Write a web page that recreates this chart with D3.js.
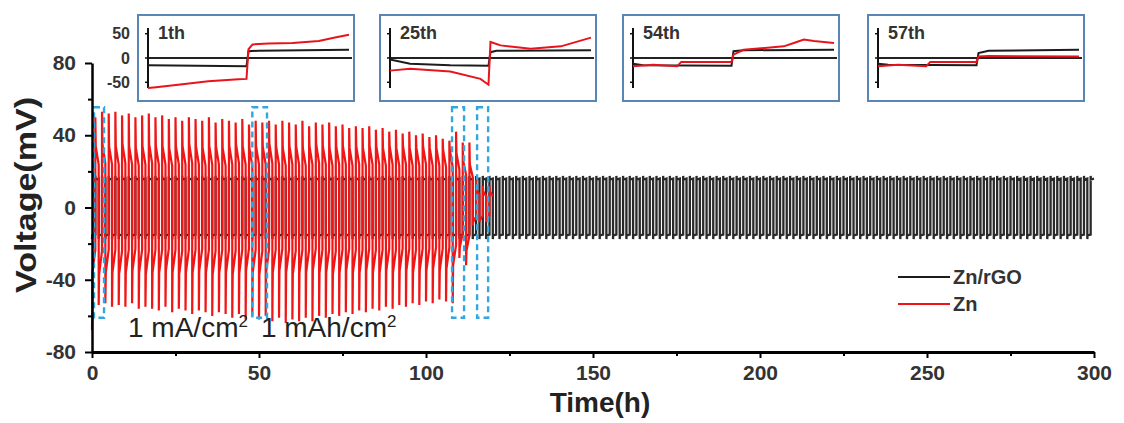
<!DOCTYPE html>
<html>
<head>
<meta charset="utf-8">
<script src="https://cdn.jsdelivr.net/npm/d3@7"></script>
<style>
body { margin: 0; background: #fff; }
svg { display: block; font-family: "Liberation Sans", Arial, sans-serif; }
</style>
</head>
<body>
<svg id="chart" width="1124" height="423"></svg>
<script>
// ----- DATA -----------------------------------------------------------
const xTicks = [0, 50, 100, 150, 200, 250, 300];
const xMinorTicks = [25, 75, 125, 175, 225, 275];
const yTicks = [-80, -40, 0, 40, 80];
const yMinorTicks = [-60, -20, 20, 60];

const seriesNames = ["Zn/rGO", "Zn"];
const seriesColors = ["#1c1c1c", "#f01414"];

// one plating/stripping cycle = 2 h (1 mA/cm2, 1 mAh/cm2)
const cycleHours = 2;
const rgoCycles = 150;
// Zn/rGO voltage over one cycle: [fraction of cycle, mV]
const rgoCycleShape = [[0, -17.5], [0.03, -15.5], [0.5, -15], [0.5, 17.5], [0.53, 15.5], [1, 16]];

// bare Zn, per cycle (60 cycles, 0-120 h)
const znPeakUp = [
    50, 53, 52, 53, 51, 52, 50, 51, 52, 50,
    51, 49, 50, 48, 50, 49, 48, 50, 47, 49,
    48, 47, 49, 46, 48, 47, 48, 46, 48, 47,
    46, 48, 45, 47, 46, 47, 45, 46, 44, 45,
    44, 45, 43, 44, 42, 43, 41, 42, 40, 41,
    39, 40, 38, 37, 42, 36, 36, 15, 12, 12
];
const znPeakDown = [
    -68, -54, -53, -55, -54, -55, -53, -56, -55, -56,
    -57, -55, -58, -56, -57, -59, -57, -58, -60, -58,
    -59, -61, -59, -62, -60, -62, -60, -63, -61, -64,
    -62, -63, -61, -63, -60, -61, -59, -60, -58, -59,
    -57, -58, -56, -57, -55, -56, -54, -55, -53, -54,
    -52, -53, -51, -52, -53, -28, -32, -10, -8, -8
];
const znHoldUp = [
    34, 35, 34, 34, 35, 34, 33, 34, 35, 34,
    34, 33, 34, 34, 35, 34, 33, 34, 34, 33,
    34, 35, 34, 33, 34, 34, 35, 34, 33, 34,
    34, 33, 34, 35, 34, 33, 34, 34, 33, 34,
    33, 34, 34, 33, 34, 33, 34, 33, 33, 34,
    33, 33, 32, 32, 30, 26, 24, 10, 9, 9
];
const znHoldDown = [
    -36, -37, -36, -36, -37, -36, -35, -36, -37, -36,
    -36, -35, -36, -37, -36, -36, -35, -36, -37, -36,
    -36, -37, -36, -35, -36, -37, -36, -36, -35, -36,
    -37, -36, -36, -35, -36, -36, -37, -36, -35, -36,
    -36, -35, -36, -36, -35, -36, -35, -35, -36, -35,
    -35, -34, -35, -34, -32, -22, -24, -8, -7, -7
];

// dashed windows (h) shown in the insets
const windowStart = [0.6, 48, 107.8, 115.3];
const windowEnd = [3.6, 52.4, 111.4, 118.6];
const windowTop = 55.5;
const windowBottom = -61;

// insets: one cycle each, [fraction of cycle, mV]
const insetLabels = ["1th", "25th", "54th", "57th"];
const insetTicks = [50, 0, -50];
const insetZn = [
    [[0, -62], [0.04, -60], [0.15, -55], [0.3, -48], [0.45, -44], [0.49, -43], [0.5, 18], [0.52, 28], [0.6, 30], [0.72, 31], [0.85, 35], [0.93, 42], [1, 48]],
    [[0, -26], [0.1, -22], [0.3, -28], [0.45, -43], [0.49, -55], [0.5, 33], [0.55, 26], [0.7, 19], [0.85, 24], [1, 42]],
    [[0, -17], [0.1, -14], [0.22, -17], [0.24, -8], [0.49, -8], [0.5, 7], [0.55, 17], [0.75, 24], [0.8, 31], [0.85, 38], [0.9, 35], [1, 31]],
    [[0, -17], [0.1, -14], [0.24, -17], [0.26, -8], [0.49, -8], [0.5, 3], [0.55, 4], [1, 3]]
];
const insetRgo = [
    [[0, -15], [0.49, -17], [0.5, 14], [0.55, 15], [1, 17]],
    [[0, -3], [0.1, -12], [0.3, -15], [0.49, -16], [0.5, 12], [0.53, 15], [1, 16]],
    [[0, -12], [0.05, -15], [0.49, -16], [0.5, 14], [0.55, 16], [1, 17]],
    [[0, -12], [0.05, -14], [0.49, -15], [0.5, 10], [0.55, 15], [1, 17]]
];

// ----- LAYOUT ---------------------------------------------------------
const svg = d3.select("#chart");

// soften the dense traces a little, like the scanned figure
svg.append("defs")
    .append("filter")
    .attr("id", "soft")
    .attr("x", "-2%").attr("y", "-2%").attr("width", "104%").attr("height", "104%")
    .append("feGaussianBlur")
    .attr("stdDeviation", 0.55);

const x = d3.scaleLinear().domain([0, 300]).range([92, 1094]);
const y = d3.scaleLinear().domain([-80, 80]).range([352, 63]);

// build the two voltage traces
let rgoPoints = [];
for (let c = 0; c < rgoCycles; c++) {
    rgoCycleShape.forEach(p => rgoPoints.push([c * cycleHours + p[0] * cycleHours, p[1]]));
}

let znPoints = [];
znPeakUp.forEach((up, c) => {
    const t0 = c * cycleHours;
    znPoints.push([t0, znPeakDown[c]]);
    znPoints.push([t0 + 0.12, znHoldDown[c]]);
    znPoints.push([t0 + 1, znHoldDown[c] * 0.65]);
    znPoints.push([t0 + 1, up]);
    znPoints.push([t0 + 1.12, znHoldUp[c]]);
    znPoints.push([t0 + 2, znHoldUp[c] * 0.7]);
});

const line = d3.line().x(d => x(d[0])).y(d => y(d[1]));

svg.append("path")
    .attr("d", line(rgoPoints))
    .attr("fill", "none")
    .attr("stroke", "#2a2a2a")
    .attr("stroke-width", 2.3)
    .attr("filter", "url(#soft)");

svg.append("path")
    .attr("d", line(znPoints))
    .attr("fill", "none")
    .attr("stroke", seriesColors[1])
    .attr("stroke-width", 2.2)
    .attr("filter", "url(#soft)");

// dashed highlight windows
windowStart.forEach((s, i) => {
    svg.append("rect")
        .attr("x", x(s))
        .attr("y", y(windowTop))
        .attr("width", x(windowEnd[i]) - x(s))
        .attr("height", y(windowBottom) - y(windowTop))
        .attr("fill", "none")
        .attr("stroke", "#33a6e0")
        .attr("stroke-width", 2.4)
        .attr("stroke-dasharray", "6,4");
});

// ----- AXES -----------------------------------------------------------
const tickFont = g => g.selectAll("text")
    .attr("font-size", 21)
    .attr("font-weight", "bold")
    .attr("fill", "#333");

const yAxis = svg.append("g")
    .attr("transform", "translate(" + x(0) + ",0)")
    .call(d3.axisLeft(y).tickValues(yTicks).tickSize(7).tickSizeOuter(0).tickPadding(9)
        .tickFormat(d => String(d)))
    .call(tickFont);
yAxis.select(".domain").attr("stroke-width", 2.5);
yAxis.selectAll(".tick line").attr("stroke-width", 2);

const yMinor = svg.append("g")
    .attr("transform", "translate(" + x(0) + ",0)")
    .call(d3.axisLeft(y).tickValues(yMinorTicks).tickSize(4).tickFormat(""));
yMinor.select(".domain").remove();
yMinor.selectAll(".tick line").attr("stroke-width", 2);

const xAxis = svg.append("g")
    .attr("transform", "translate(0," + y(-80) + ")")
    .call(d3.axisBottom(x).tickValues(xTicks).tickSize(6).tickSizeOuter(0).tickPadding(7))
    .call(tickFont);
xAxis.select(".domain").attr("stroke-width", 3);
xAxis.selectAll(".tick line").attr("stroke-width", 2);

const xMinor = svg.append("g")
    .attr("transform", "translate(0," + y(-80) + ")")
    .call(d3.axisBottom(x).tickValues(xMinorTicks).tickSize(4).tickFormat(""));
xMinor.select(".domain").remove();
xMinor.selectAll(".tick line").attr("stroke-width", 2);

svg.append("text")
    .attr("transform", "translate(36,195) rotate(-90)")
    .attr("text-anchor", "middle")
    .attr("font-size", 29)
    .attr("font-weight", "bold")
    .attr("fill", "#222")
    .attr("textLength", 196)
    .attr("lengthAdjust", "spacingAndGlyphs")
    .text("Voltage(mV)");

svg.append("text")
    .attr("x", 600)
    .attr("y", 412)
    .attr("text-anchor", "middle")
    .attr("font-size", 28)
    .attr("font-weight", "bold")
    .attr("fill", "#222")
    .text("Time(h)");

// current density annotation
const note = svg.append("text")
    .attr("x", 128)
    .attr("y", 337)
    .attr("font-size", 28)
    .attr("fill", "#222");
note.append("tspan").text("1 mA/cm");
note.append("tspan").attr("dy", -10).attr("font-size", 17).text("2");
note.append("tspan").attr("dy", 10).attr("dx", 13).text("1 mAh/cm");
note.append("tspan").attr("dy", -10).attr("font-size", 17).text("2");

// ----- LEGEND ---------------------------------------------------------
seriesNames.forEach((name, i) => {
    const ly = 277 + i * 27;
    svg.append("line")
        .attr("x1", 898).attr("x2", 950)
        .attr("y1", ly).attr("y2", ly)
        .attr("stroke", seriesColors[i])
        .attr("stroke-width", 2);
    svg.append("text")
        .attr("x", 953)
        .attr("y", ly + 7)
        .attr("font-size", 20)
        .attr("font-weight", "bold")
        .attr("fill", "#333")
        .text(name);
});

// ----- INSETS ---------------------------------------------------------
const insetBox = { w: 216, h: 86, top: 15 };
const insetLeft = [138, 380, 623, 868];

insetLabels.forEach((label, k) => {
    const bx = insetLeft[k];
    const by = insetBox.top;
    const g = svg.append("g");

    g.append("rect")
        .attr("x", bx).attr("y", by)
        .attr("width", insetBox.w).attr("height", insetBox.h)
        .attr("fill", "#fff")
        .attr("stroke", "#5a85b5")
        .attr("stroke-width", 2);

    const ix = d3.scaleLinear().domain([0, 1]).range([bx + 10, bx + insetBox.w - 5]);
    const iy = d3.scaleLinear().domain([-70, 70]).range([by + 77, by + 9]);

    // zero line and left axis
    g.append("line")
        .attr("x1", ix(0)).attr("x2", bx + insetBox.w - 2)
        .attr("y1", iy(0)).attr("y2", iy(0))
        .attr("stroke", "#222").attr("stroke-width", 1.8);
    g.append("line")
        .attr("x1", ix(0)).attr("x2", ix(0))
        .attr("y1", iy(62)).attr("y2", iy(-62))
        .attr("stroke", "#111").attr("stroke-width", 2);
    insetTicks.forEach(t => {
        g.append("line")
            .attr("x1", ix(0) - 3).attr("x2", ix(0))
            .attr("y1", iy(t)).attr("y2", iy(t))
            .attr("stroke", "#111").attr("stroke-width", 1.5);
    });

    const il = d3.line().x(d => ix(d[0])).y(d => iy(d[1]));
    g.append("path")
        .attr("d", il(insetRgo[k]))
        .attr("fill", "none")
        .attr("stroke", seriesColors[0])
        .attr("stroke-width", 2);
    g.append("path")
        .attr("d", il(insetZn[k]))
        .attr("fill", "none")
        .attr("stroke", "#e8141c")
        .attr("stroke-width", 2);

    g.append("text")
        .attr("x", bx + 20)
        .attr("y", by + 24)
        .attr("font-size", 18)
        .attr("font-weight", "bold")
        .attr("fill", "#333")
        .text(label);

    // only the first inset carries tick labels
    if (k === 0) {
        insetTicks.forEach(t => {
            g.append("text")
                .attr("x", bx - 8)
                .attr("y", iy(t))
                .attr("dy", "0.35em")
                .attr("text-anchor", "end")
                .attr("font-size", 16)
                .attr("font-weight", "bold")
                .attr("fill", "#333")
                .text(t);
        });
    }
});
</script>
</body>
</html>
